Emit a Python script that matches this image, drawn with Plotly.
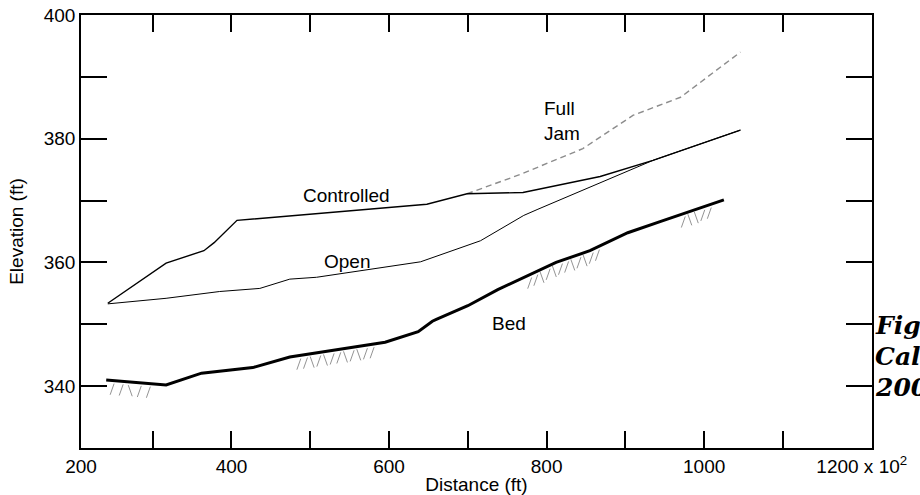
import numpy as np
import plotly.graph_objects as go

# ---- data (distance in ft x 10^2 label convention, elevation in ft) ----
bed_x = [241, 317, 362, 427, 474, 595, 637, 655, 660, 700, 738, 779, 812, 855, 903, 944, 1025]
bed_y = [341.0, 340.2, 342.1, 343.0, 344.7, 347.1, 348.8, 350.5, 350.8, 353.0, 355.6, 358.0, 360.0, 361.9, 364.8, 366.6, 370.1]

ctrl_x = [243, 317, 365, 378, 407, 648, 699, 770, 868, 935, 1046]
ctrl_y = [353.4, 359.9, 361.9, 363.2, 366.8, 369.4, 371.1, 371.3, 373.9, 376.5, 381.4]

open_x = [243, 317, 385, 436, 474, 508, 640, 716, 771, 789, 935, 1046]
open_y = [353.3, 354.2, 355.3, 355.8, 357.3, 357.6, 360.1, 363.5, 367.6, 368.6, 376.5, 381.4]

jam_x = [699, 766, 846, 910, 970, 1046]
jam_y = [371.1, 374.2, 378.4, 383.8, 386.7, 394.0]

# hatch (bank) symbol locations along the bed: start, end distance and stroke pattern
hatch_ranges = [(250, 296), (487, 580), (780, 866), (975, 1008)]
hatch_patterns = ["//\\//", "//\\/\\//\\/\\//", "//\\/\\//\\/\\//", "/\\\\//"]

x_tickvals = [209, 400, 600, 800, 1000, 1200]
x_ticktext = ["200", "400", "600", "800", "1000", "1200 x 10<sup>2</sup>"]
x_minor = [300, 400, 500, 600, 700, 800, 900, 1000, 1100]
y_tickvals = [340, 350, 360, 370, 380, 390, 400]
y_ticktext = ["340", " ", "360", " ", "380", " ", "400"]

caption_lines = ["Figure 9.", "Calculated", "2001"]

FONT = "Liberation Sans, Arial, sans-serif"

fig = go.Figure()

# hatch strokes
hx, hy = [], []
for (s, e), pat in zip(hatch_ranges, hatch_patterns):
    xs = np.linspace(s, e, len(pat))
    for xv, ch in zip(xs, pat):
        yb = float(np.interp(xv, bed_x, bed_y))
        top, bot = yb - 0.5, yb - 2.3
        if ch == "/":
            hx += [xv - 4, xv + 1, None]
        else:
            hx += [xv + 1, xv - 4, None]
        hy += [bot, top, None]
fig.add_trace(go.Scatter(x=hx, y=hy, mode="lines", line=dict(color="#777777", width=0.8),
                         hoverinfo="skip", showlegend=False))

fig.add_trace(go.Scatter(x=jam_x, y=jam_y, mode="lines", name="Full Jam",
                         line=dict(color="#8c8c8c", width=1.4, dash="6px,4px"), showlegend=False))
fig.add_trace(go.Scatter(x=open_x, y=open_y, mode="lines", name="Open",
                         line=dict(color="black", width=1), showlegend=False))
fig.add_trace(go.Scatter(x=ctrl_x, y=ctrl_y, mode="lines", name="Controlled",
                         line=dict(color="black", width=1.4), showlegend=False))
fig.add_trace(go.Scatter(x=bed_x, y=bed_y, mode="lines", name="Bed",
                         line=dict(color="black", width=3), showlegend=False))

# top axis ticks
fig.add_trace(go.Scatter(x=[209], y=[330], xaxis="x2", mode="markers",
                         marker=dict(opacity=0), hoverinfo="skip", showlegend=False))

labels = [("Controlled", 546, 370.8), ("Open", 546, 360.2), ("Bed", 752, 350.1),
          ("Full<br>Jam", 820, 382.9)]
for t, x, y in labels:
    fig.add_annotation(x=x, y=y, text=t, showarrow=False, xref="x", yref="y",
                       font=dict(family=FONT, size=19, color="black"), align="left")

for i, line in enumerate(caption_lines):
    fig.add_annotation(x=1.0063, y=0.282 - 0.0716 * i, xref="paper", yref="paper",
                       xanchor="left", yanchor="middle", showarrow=False, align="left",
                       xshift=-4, text="<b><i>" + line + "</i></b>",
                       font=dict(family="DejaVu Serif, serif", size=25, color="black"))

fig.update_layout(
    width=920, height=495,
    margin=dict(l=81, r=48, t=15, b=47, autoexpand=False),
    paper_bgcolor="white", plot_bgcolor="white",
    font=dict(family=FONT, size=19, color="black"),
    xaxis=dict(range=[209, 1213], tickmode="array", tickvals=x_tickvals, ticktext=x_ticktext,
               ticks="", showgrid=False, zeroline=False, showline=True, linecolor="black",
               linewidth=1.5, mirror=True, automargin=False,
               minor=dict(tickmode="array", tickvals=x_minor, ticks="inside", ticklen=17,
                          tickwidth=2, tickcolor="black", showgrid=False),
               title=dict(text="Distance (ft)", standoff=2, font=dict(size=19))),
    xaxis2=dict(range=[209, 1213], overlaying="x", side="top", tickmode="array",
                tickvals=x_minor, ticks="inside", ticklen=17, tickwidth=2, tickcolor="black",
                showticklabels=False, showgrid=False, zeroline=False, showline=False,
                automargin=False),
    yaxis=dict(range=[330, 400], tickmode="array", tickvals=y_tickvals, ticktext=y_ticktext,
               ticks="inside", ticklen=26, tickwidth=2, tickcolor="black", showgrid=False,
               zeroline=False, showline=True, linecolor="black", linewidth=1.5, mirror="ticks",
               automargin=False,
               title=dict(text="Elevation (ft)", standoff=15, font=dict(size=19))),
)

fig.write_html("out.html")
